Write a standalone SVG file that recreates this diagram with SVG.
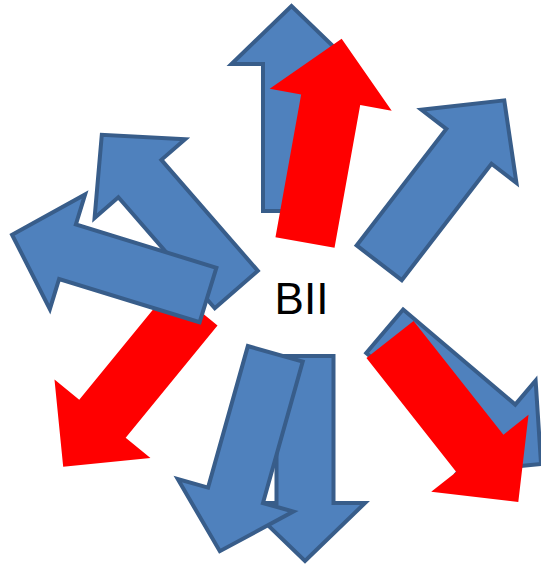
<svg xmlns="http://www.w3.org/2000/svg" xmlns:xlink="http://www.w3.org/1999/xlink" width="541" height="564" viewBox="0 0 541 564">
  <style>
    .blue { fill: #4F81BD; stroke: #385D8A; stroke-width: 4; stroke-linejoin: miter; }
    .red { fill: #FF0000; stroke: none; }
    .label { font-family: "Liberation Sans", Arial, sans-serif; font-size: 44px; fill: #000000; }
  </style>
  <defs>
    <!-- block arrows: tail centre at origin, pointing up -->
    <path id="arrow-b" d="M-28.5,0 V-147 H-60 L0,-205 L60,-147 H28.5 V0 Z"/>
    <path id="arrow-r" d="M-30,0 V-145 H-62 L0,-207 L62,-145 H30 V0 Z"/>
  </defs>
  <rect width="541" height="564" fill="#FFFFFF"/>
  <g id="connectors">
    <use id="blue-n" class="blue" xlink:href="#arrow-b" transform="translate(291.5,211) rotate(0)"/>
    <use id="red-n" class="red" xlink:href="#arrow-r" transform="translate(305,242.5) rotate(10.2)"/>
    <use id="blue-ne" class="blue" xlink:href="#arrow-b" transform="translate(379.2,262.8) rotate(37.6)"/>
    <use id="blue-se" class="blue" xlink:href="#arrow-b" transform="translate(384.7,331.3) rotate(130.3)"/>
    <use id="red-se" class="red" xlink:href="#arrow-r" transform="translate(390,339.5) rotate(141.7)"/>
    <use id="blue-s" class="blue" xlink:href="#arrow-b" transform="translate(305,356) rotate(180)"/>
    <use id="blue-ssw" class="blue" xlink:href="#arrow-b" transform="translate(275.3,353.8) rotate(195.7)"/>
    <use id="red-sw" class="red" xlink:href="#arrow-r" transform="translate(194.3,306.5) rotate(219.3)"/>
    <use id="blue-nw" class="blue" xlink:href="#arrow-b" transform="translate(236.3,289.5) rotate(-41)"/>
    <use id="blue-w" class="blue" xlink:href="#arrow-b" transform="translate(208,295) rotate(-72.9)"/>
  </g>
  <g id="node-bii">
    <text class="label" x="301.5" y="314" text-anchor="middle">BII</text>
  </g>
</svg>
